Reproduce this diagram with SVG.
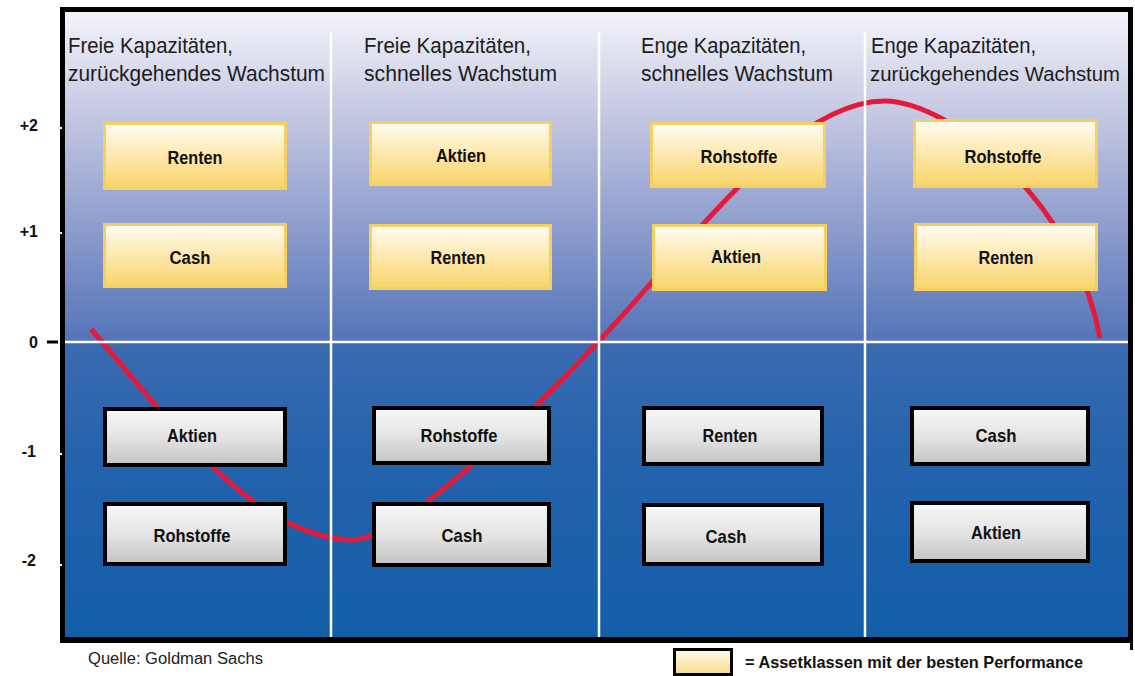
<svg xmlns="http://www.w3.org/2000/svg" width="1135" height="676" viewBox="0 0 1135 676">
  <style>
    .hdr { font-family: "Liberation Sans", Arial, sans-serif; font-size: 22px; fill: #1c1c1c; }
    .hdr.narrow { font-size: 20.5px; }
    .lbl { font-family: "Liberation Sans", Arial, sans-serif; font-size: 19px; font-weight: bold; fill: #111; text-anchor: middle; }
    .axis { font-family: "Liberation Sans", Arial, sans-serif; font-size: 16px; font-weight: bold; fill: #111; text-anchor: end; }
    .note { font-family: "Liberation Sans", Arial, sans-serif; font-size: 16px; fill: #222; }
    .legend { font-family: "Liberation Sans", Arial, sans-serif; font-size: 17px; font-weight: bold; fill: #111; }
    .best { fill: url(#gold); stroke: #f6cf62; stroke-width: 3; }
    .rest { fill: url(#grey); stroke: #000; stroke-width: 4; }
    .grid { stroke: #fff; stroke-width: 2.5; fill: none; }
  </style>
  <defs>
    <linearGradient id="upper" x1="0" y1="0" x2="0" y2="1">
      <stop offset="0" stop-color="#f4f4fa"/>
      <stop offset="0.3" stop-color="#c6cae3"/>
      <stop offset="0.65" stop-color="#8e9dcd"/>
      <stop offset="1" stop-color="#5474b8"/>
    </linearGradient>
    <linearGradient id="lower" x1="0" y1="0" x2="0" y2="1">
      <stop offset="0" stop-color="#3b6bb1"/>
      <stop offset="0.4" stop-color="#2462ac"/>
      <stop offset="1" stop-color="#145ea8"/>
    </linearGradient>
    <linearGradient id="gold" x1="0" y1="0" x2="0" y2="1">
      <stop offset="0" stop-color="#fffdf2"/>
      <stop offset="0.45" stop-color="#fdeab4"/>
      <stop offset="1" stop-color="#f8d468"/>
    </linearGradient>
    <linearGradient id="grey" x1="0" y1="0" x2="0" y2="1">
      <stop offset="0" stop-color="#f8f8f8"/>
      <stop offset="0.5" stop-color="#e4e4e4"/>
      <stop offset="1" stop-color="#c4c4c4"/>
    </linearGradient>
    <linearGradient id="swatch" x1="0" y1="0" x2="0" y2="1">
      <stop offset="0" stop-color="#fffbea"/>
      <stop offset="1" stop-color="#f9dc8a"/>
    </linearGradient>
  </defs>

  <!-- chart background -->
  <rect x="62" y="10" width="1068" height="332" fill="url(#upper)"/>
  <rect x="62" y="342" width="1068" height="297" fill="url(#lower)"/>

  <!-- business cycle curve -->
  <g id="connectors">
    <path id="curve" d="M 91 329 C 170 420, 250 535, 350 540 C 400 542, 530 415, 598 342 C 690 245, 790 101, 885 101 C 950 102, 1075 200, 1100 338" fill="none" stroke="#e51a3a" stroke-width="5" stroke-linecap="butt"/>
  </g>

  <!-- grid lines -->
  <g id="grid">
    <line class="grid" x1="62" y1="342" x2="1130" y2="342"/>
    <line class="grid" x1="331" y1="32" x2="331" y2="637"/>
    <line class="grid" x1="599" y1="32" x2="599" y2="637"/>
    <line class="grid" x1="865" y1="32" x2="865" y2="637"/>
  </g>

  <!-- frame -->
  <g id="frame" fill="none" stroke="#000">
    <rect x="62.5" y="9.5" width="1068" height="630" stroke-width="5"/>
    <line x1="60" y1="640" x2="1133" y2="640" stroke-width="6"/>
    <line x1="1131.5" y1="640" x2="1131.5" y2="650" stroke-width="3"/>
    <line x1="47" y1="342" x2="58" y2="342" stroke-width="3"/>
  </g>
  <g id="ticks" fill="#fff">
    <rect x="59" y="127" width="3" height="2"/>
    <rect x="59" y="232" width="3" height="2"/>
    <rect x="59" y="453" width="3" height="2"/>
    <rect x="59" y="564" width="3" height="2"/>
  </g>

  <!-- axis -->
  <g id="axis">
    <text class="axis" x="38" y="131">+2</text>
    <text class="axis" x="38" y="237">+1</text>
    <text class="axis" x="38" y="348">0</text>
    <text class="axis" x="36" y="457">-1</text>
    <text class="axis" x="36" y="566">-2</text>
  </g>

  <!-- column headers -->
  <g id="header-1">
    <text class="hdr" x="68" y="53" textLength="165" lengthAdjust="spacingAndGlyphs">Freie Kapazitäten,</text>
    <text class="hdr" x="68" y="81" textLength="257" lengthAdjust="spacingAndGlyphs">zurückgehendes Wachstum</text>
  </g>
  <g id="header-2">
    <text class="hdr" x="364" y="53" textLength="167" lengthAdjust="spacingAndGlyphs">Freie Kapazitäten,</text>
    <text class="hdr" x="364" y="81" textLength="193" lengthAdjust="spacingAndGlyphs">schnelles Wachstum</text>
  </g>
  <g id="header-3">
    <text class="hdr" x="641" y="53" textLength="165" lengthAdjust="spacingAndGlyphs">Enge Kapazitäten,</text>
    <text class="hdr" x="641" y="81" textLength="192" lengthAdjust="spacingAndGlyphs">schnelles Wachstum</text>
  </g>
  <g id="header-4">
    <text class="hdr" x="871" y="53" textLength="165" lengthAdjust="spacingAndGlyphs">Enge Kapazitäten,</text>
    <text class="hdr narrow" x="870" y="81" textLength="250" lengthAdjust="spacingAndGlyphs">zurückgehendes Wachstum</text>
  </g>

  <!-- column 1 -->
  <g id="c1-renten">
    <rect class="best" x="104.5" y="123.5" width="181" height="65"/>
    <text class="lbl" x="195" y="164" textLength="55" lengthAdjust="spacingAndGlyphs">Renten</text>
  </g>
  <g id="c1-cash">
    <rect class="best" x="104.5" y="224.5" width="181" height="62"/>
    <text class="lbl" x="190" y="264" textLength="41" lengthAdjust="spacingAndGlyphs">Cash</text>
  </g>
  <g id="c1-aktien">
    <rect class="rest" x="105" y="409" width="180" height="56"/>
    <text class="lbl" x="192" y="442" textLength="50" lengthAdjust="spacingAndGlyphs">Aktien</text>
  </g>
  <g id="c1-rohstoffe">
    <rect class="rest" x="105" y="504" width="180" height="60"/>
    <text class="lbl" x="192" y="542" textLength="77" lengthAdjust="spacingAndGlyphs">Rohstoffe</text>
  </g>

  <!-- column 2 -->
  <g id="c2-aktien">
    <rect class="best" x="370.5" y="122.5" width="180" height="62"/>
    <text class="lbl" x="461" y="162" textLength="50" lengthAdjust="spacingAndGlyphs">Aktien</text>
  </g>
  <g id="c2-renten">
    <rect class="best" x="370.5" y="225.5" width="180" height="63"/>
    <text class="lbl" x="458" y="264" textLength="55" lengthAdjust="spacingAndGlyphs">Renten</text>
  </g>
  <g id="c2-rohstoffe">
    <rect class="rest" x="374" y="408" width="175" height="55"/>
    <text class="lbl" x="459" y="442" textLength="77" lengthAdjust="spacingAndGlyphs">Rohstoffe</text>
  </g>
  <g id="c2-cash">
    <rect class="rest" x="374" y="504" width="175" height="61"/>
    <text class="lbl" x="462" y="542" textLength="41" lengthAdjust="spacingAndGlyphs">Cash</text>
  </g>

  <!-- column 3 -->
  <g id="c3-rohstoffe">
    <rect class="best" x="651.5" y="123.5" width="173" height="63"/>
    <text class="lbl" x="739" y="163" textLength="77" lengthAdjust="spacingAndGlyphs">Rohstoffe</text>
  </g>
  <g id="c3-aktien">
    <rect class="best" x="653.5" y="225.5" width="172" height="64"/>
    <text class="lbl" x="736" y="263" textLength="50" lengthAdjust="spacingAndGlyphs">Aktien</text>
  </g>
  <g id="c3-renten">
    <rect class="rest" x="644" y="408" width="178" height="56"/>
    <text class="lbl" x="730" y="442" textLength="55" lengthAdjust="spacingAndGlyphs">Renten</text>
  </g>
  <g id="c3-cash">
    <rect class="rest" x="644" y="505" width="178" height="59"/>
    <text class="lbl" x="726" y="543" textLength="41" lengthAdjust="spacingAndGlyphs">Cash</text>
  </g>

  <!-- column 4 -->
  <g id="c4-rohstoffe">
    <rect class="best" x="914.5" y="120.5" width="182" height="66"/>
    <text class="lbl" x="1003" y="163" textLength="77" lengthAdjust="spacingAndGlyphs">Rohstoffe</text>
  </g>
  <g id="c4-renten">
    <rect class="best" x="915.5" y="224.5" width="181" height="65"/>
    <text class="lbl" x="1006" y="264" textLength="55" lengthAdjust="spacingAndGlyphs">Renten</text>
  </g>
  <g id="c4-cash">
    <rect class="rest" x="912" y="408" width="176" height="56"/>
    <text class="lbl" x="996" y="442" textLength="41" lengthAdjust="spacingAndGlyphs">Cash</text>
  </g>
  <g id="c4-aktien">
    <rect class="rest" x="912" y="503" width="176" height="58"/>
    <text class="lbl" x="996" y="539" textLength="50" lengthAdjust="spacingAndGlyphs">Aktien</text>
  </g>

  <!-- footer -->
  <g id="source">
    <text class="note" x="88" y="664" textLength="175" lengthAdjust="spacingAndGlyphs">Quelle: Goldman Sachs</text>
  </g>
  <g id="legend">
    <rect x="674.5" y="649.5" width="57" height="25" fill="url(#swatch)" stroke="#000" stroke-width="3"/>
    <text class="legend" x="745" y="668" textLength="338" lengthAdjust="spacingAndGlyphs">= Assetklassen mit der besten Performance</text>
  </g>
</svg>
